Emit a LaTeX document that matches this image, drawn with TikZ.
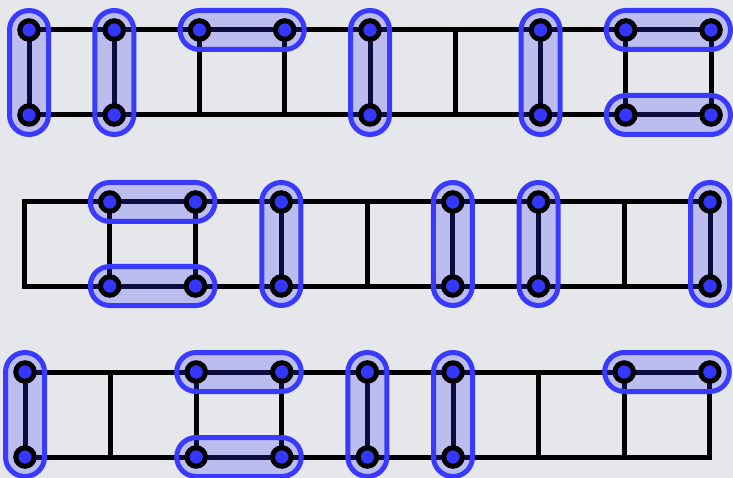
\documentclass[tikz,border=0pt]{standalone}
\usetikzlibrary{calc}
\definecolor{bgcol}{RGB}{229,231,235}
\definecolor{matchblue}{RGB}{58,58,255}
\definecolor{dotblue}{RGB}{52,56,255}
\tikzset{
  edge/.style={line width=5pt, line join=miter, black},
  capsule/.style={draw=matchblue, line width=5pt, fill=matchblue, fill opacity=0.24, rounded corners=19.5pt},
  vdot/.style={circle, draw=black, line width=5pt, fill=dotblue, minimum size=18.5pt, inner sep=0pt},
}
% highlight a matched pair of vertices
\newcommand\pairbox[2]{\draw[capsule] ($(#1)+(-19.5,-19.5)$) rectangle ($(#2)+(19.5,19.5)$);}
\begin{document}
\begin{tikzpicture}[x=1pt,y=-1pt]
\useasboundingbox (0,0) rectangle (733,478);
\fill[bgcol] (0,0) rectangle (733,478);

% vertex positions of the three ladders
\foreach \i in {0,...,8} {
  \coordinate (p\i) at ({29+85.25*\i},30);
  \coordinate (q\i) at ({29+85.25*\i},115);
  \coordinate (s\i) at ({24+85.75*\i},202);
  \coordinate (t\i) at ({24+85.75*\i},286);
  \coordinate (u\i) at ({25+85.6*\i},372);
  \coordinate (w\i) at ({25+85.6*\i},457);
}

% ladder edges
\draw[edge] (p0) -- (p8) -- (q8) -- (q0) -- cycle;
\draw[edge] (s0) -- (s8) -- (t8) -- (t0) -- cycle;
\draw[edge] (u0) -- (u8) -- (w8) -- (w0) -- cycle;
\foreach \i in {1,...,7} {
  \draw[edge] (p\i) -- (q\i);
  \draw[edge] (s\i) -- (t\i);
  \draw[edge] (u\i) -- (w\i);
}

% matched pairs
\pairbox{p0}{q0} \pairbox{p1}{q1} \pairbox{p2}{p3} \pairbox{p4}{q4}
\pairbox{p6}{q6} \pairbox{p7}{p8} \pairbox{q7}{q8}
\pairbox{s1}{s2} \pairbox{t1}{t2} \pairbox{s3}{t3} \pairbox{s5}{t5}
\pairbox{s6}{t6} \pairbox{s8}{t8}
\pairbox{u0}{w0} \pairbox{u2}{u3} \pairbox{w2}{w3} \pairbox{u4}{w4}
\pairbox{u5}{w5} \pairbox{u7}{u8}

% covered vertices
\foreach \v in {p0,q0,p1,q1,p2,p3,p4,q4,p6,q6,p7,p8,q7,q8,
                s1,s2,t1,t2,s3,t3,s5,t5,s6,t6,s8,t8,
                u0,w0,u2,u3,w2,w3,u4,w4,u5,w5,u7,u8}
  \node[vdot] (d\v) at (\v) {};
\end{tikzpicture}
\end{document}
